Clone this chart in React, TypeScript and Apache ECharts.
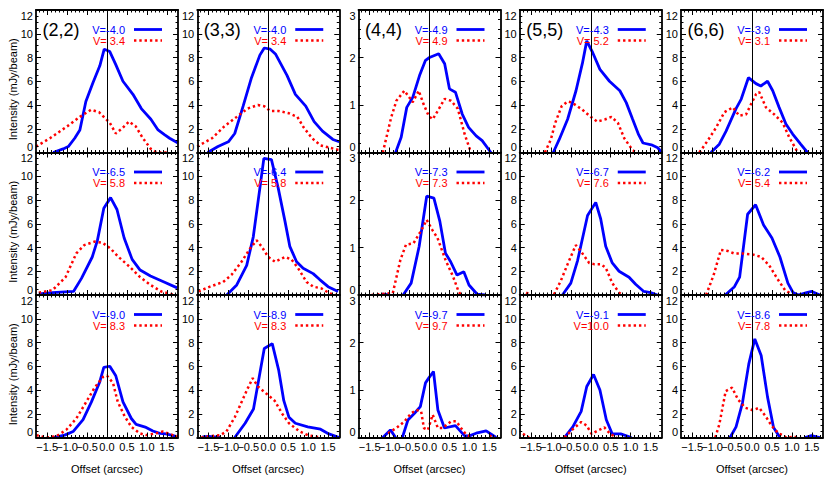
import React, { useEffect, useRef } from 'react';
import * as echarts from 'echarts';

const FONT = '"Liberation Sans", Arial, Helvetica, sans-serif';

// ---- labels ----
const panelLabels = ['(2,2)', '(3,3)', '(4,4)', '(5,5)', '(6,6)'];
const blueVelRow1 = ['-4.0', '-4.0', '-4.9', '-4.3', '-3.9'];
const blueVelRow2 = ['-6.5', '-6.4', '-7.3', '-6.7', '-6.2'];
const blueVelRow3 = ['-9.0', '-8.9', '-9.7', '-9.1', '-8.6'];
const redVelRow1 = [' 3.4', ' 3.4', ' 4.9', ' 5.2', ' 3.1'];
const redVelRow2 = [' 5.8', ' 5.8', ' 7.3', ' 7.6', ' 5.4'];
const redVelRow3 = [' 8.3', ' 8.3', ' 9.7', '10.0', ' 7.8'];

// ---- axes ----
const yMaxByColumn = [12, 12, 3, 12, 12];
const yIntervalByColumn = [2, 2, 1, 2, 2];
const yMinorSplitByColumn = [4, 4, 5, 4, 4];
const xMajorTicks = [-1.5, -1.0, -0.5, 0, 0.5, 1.0, 1.5];
const xLabelsOdd = [-1.5, -0.5, 0.5, 1.5];
const xLabelsEven = [-1.0, 0, 1.0];
const xMinorTicks = [-1.7, -1.6, -1.4, -1.3, -1.2, -1.1, -0.9, -0.8, -0.7, -0.6, -0.4, -0.3, -0.2, -0.1,
  0.1, 0.2, 0.3, 0.4, 0.6, 0.7, 0.8, 0.9, 1.1, 1.2, 1.3, 1.4, 1.6, 1.7];
const X_MIN = -1.78;
const X_MAX = 1.78;

// ---- data: [offset (arcsec), intensity (mJy/beam)] ----
const blue_r1c1 = [[-1.35,0],[-1.1,0.3],[-0.97,0.5],[-0.81,1.2],[-0.68,1.9],[-0.53,4.3],[-0.35,5.9],[-0.18,7.3],[-0.07,8.7],[0.07,8.5],[0.22,7.4],[0.4,6.0],[0.65,4.9],[0.86,3.7],[1.1,2.8],[1.28,1.9],[1.44,1.5],[1.57,1.2],[1.78,0.8]];
const red_r1c1 = [[-1.78,0.5],[-1.43,1.2],[-1.0,2.2],[-0.68,3.0],[-0.4,3.6],[-0.2,3.4],[-0.02,2.8],[0.07,2.5],[0.22,1.6],[0.37,2.0],[0.55,2.6],[0.72,2.2],[0.9,1.2],[1.1,0.3],[1.25,0],[1.55,0]];
const blue_r1c2 = [[-1.52,0],[-1.26,0.5],[-1.0,0.9],[-0.84,1.6],[-0.63,3.9],[-0.42,6.3],[-0.21,8.2],[-0.1,8.8],[0.05,8.7],[0.18,8.3],[0.47,6.5],[0.68,4.9],[0.94,3.9],[1.15,2.6],[1.36,1.8],[1.62,1.1],[1.78,0.9]];
const red_r1c2 = [[-1.78,0.5],[-1.41,1.2],[-1.1,2.2],[-0.79,3.0],[-0.52,3.7],[-0.26,4.0],[-0.1,3.9],[0.05,3.5],[0.26,3.5],[0.52,3.3],[0.73,3.0],[0.89,2.1],[1.1,1.2],[1.31,0.6],[1.78,0.2]];
const blue_r1c3 = [[-0.85,0],[-0.71,0.32],[-0.57,0.95],[-0.42,1.16],[-0.25,1.62],[-0.1,1.94],[0,2.0],[0.23,2.08],[0.38,1.87],[0.5,1.34],[0.65,1.27],[0.82,0.81],[0.98,0.53],[1.17,0.35],[1.32,0.25],[1.54,0]];
const red_r1c3 = [[-1.17,0],[-0.96,0.74],[-0.83,1.09],[-0.63,1.3],[-0.42,1.06],[-0.27,1.3],[-0.15,1.02],[-0.02,0.77],[0.08,0.7],[0.21,0.88],[0.38,1.13],[0.54,1.09],[0.71,0.92],[0.88,0.39],[1.04,0]];
const blue_r1c4 = [[-0.94,0],[-0.79,1.1],[-0.58,2.8],[-0.37,5.2],[-0.21,7.5],[-0.1,9.4],[0.05,8.4],[0.23,7.0],[0.47,6.0],[0.73,5.2],[0.89,4.2],[1.05,2.8],[1.2,1.5],[1.31,0.8],[1.52,0.65],[1.68,0.4],[1.78,0]];
const red_r1c4 = [[-1.15,0],[-1.0,1.1],[-0.89,2.5],[-0.73,3.9],[-0.58,4.3],[-0.47,4.2],[-0.21,3.6],[0,3.0],[0.16,2.6],[0.37,2.8],[0.52,3.0],[0.68,2.5],[0.84,1.2],[1.05,0.2],[1.15,0]];
const blue_r1c5 = [[-1.03,0],[-0.82,0.7],[-0.65,1.8],[-0.4,3.7],[-0.27,4.5],[-0.09,6.3],[0.1,5.8],[0.22,5.6],[0.39,6.0],[0.52,5.2],[0.68,3.8],[0.85,2.4],[1.02,1.55],[1.22,0.7],[1.39,0]];
const red_r1c5 = [[-1.32,0],[-1.11,1.0],[-0.9,2.1],[-0.69,3.4],[-0.48,3.8],[-0.32,3.1],[-0.15,3.2],[-0.02,4.1],[0.1,4.9],[0.18,5.1],[0.35,3.8],[0.56,3.2],[0.77,2.5],[0.93,1.3],[1.1,0.3],[1.14,0]];

const blue_r2c1 = [[-1.71,0.1],[-1.37,0.2],[-0.84,0.3],[-0.64,1.4],[-0.37,3.2],[-0.24,4.6],[-0.08,7.3],[0.09,8.2],[0.25,7.2],[0.43,4.8],[0.63,3.0],[0.83,2.1],[1.09,1.6],[1.43,1.1],[1.76,0.6]];
const red_r2c1 = [[-1.71,0.2],[-1.37,0.4],[-1.04,1.5],[-0.77,3.5],[-0.57,4.2],[-0.31,4.5],[-0.11,4.4],[0.09,3.9],[0.29,3.2],[0.56,2.4],[0.83,1.5],[1.09,0.85],[1.36,0.3],[1.69,0]];
const blue_r2c2 = [[-1.04,0],[-0.79,0.85],[-0.54,2.5],[-0.375,4.9],[-0.21,9.0],[-0.11,11.5],[0.08,11.4],[0.25,9.0],[0.42,6.2],[0.54,4.1],[0.71,2.8],[0.875,2.25],[1.125,1.8],[1.29,1.3],[1.5,0.7],[1.75,0.3]];
const red_r2c2 = [[-1.75,0.3],[-1.46,0.7],[-1.13,1.1],[-0.92,1.7],[-0.67,2.8],[-0.46,3.9],[-0.29,4.6],[-0.17,4.1],[0,3.2],[0.17,2.8],[0.42,3.2],[0.58,3.0],[0.75,2.25],[0.96,1.1],[1.13,0.7],[1.33,0.56],[1.54,0.14],[1.7,0]];
const blue_r2c3 = [[-1.19,0.02],[-0.99,0],['-','-'],[-0.66,0],[-0.46,0.25],[-0.26,1.02],[-0.07,2.08],[0.11,2.04],[0.26,1.55],[0.4,0.88],[0.53,0.7],[0.69,0.42],[0.86,0.49],[0.99,0.21],[1.19,0.02],[1.39,0]];
const red_r2c3 = [[-1.45,0],[-0.92,0.04],[-0.73,0.74],[-0.59,1.06],[-0.4,1.09],[-0.2,1.37],[-0.07,1.58],[0.07,1.37],[0.2,1.2],[0.4,0.74],[0.59,0.39],[0.73,0.07],[0.79,0]];
const blue_r2c4 = [[-0.71,0],[-0.5,1.0],[-0.33,2.9],[-0.08,6.7],[0.125,7.8],[0.25,6.4],[0.375,4.1],[0.54,2.7],[0.71,2.0],[0.96,1.5],[1.125,0.9],[1.33,0.3],[1.5,0.2],[1.67,0]];
const red_r2c4 = [[-1.62,0.2],[-1.5,0],['-','-'],[-0.92,0.05],[-0.75,1.2],[-0.58,2.6],[-0.375,4.2],[-0.25,3.7],[-0.04,2.7],[0.08,2.6],[0.25,2.6],[0.375,2.3],[0.54,1.0],[0.71,0.2],[0.79,0]];
const blue_r2c5 = [[-0.67,0],[-0.44,0.7],[-0.31,1.5],[-0.11,6.8],[0.09,7.6],[0.29,5.9],[0.5,4.8],[0.7,3.2],[0.9,1.0],[1.03,0.2],[1.16,0],[1.37,0.2],[1.5,0.3],[1.7,0]];
const red_r2c5 = [[-1.15,0],[-0.96,1.7],[-0.78,3.8],[-0.6,3.7],[-0.45,3.5],[-0.24,3.5],[0.03,3.4],[0.23,3.2],[0.43,2.5],[0.63,1.4],[0.83,0.4],[1.03,0]];

const blue_r3c1 = [[-1.35,0],[-1.06,0.2],[-0.85,0.5],[-0.6,1.5],[-0.39,3.0],[-0.18,4.7],[-0.08,5.9],[0.07,6.0],[0.22,5.2],[0.4,3.0],[0.61,1.6],[0.73,1.1],[0.98,0.85],[1.15,0.55],[1.32,0.35],[1.48,0.3],[1.73,0.1]];
const red_r3c1 = [[-1.77,0.2],[-1.52,0],[-1.27,0.1],[-1.02,0.65],[-0.77,1.6],[-0.52,3.0],[-0.31,4.2],[-0.1,5.1],[0,5.2],[0.15,4.6],[0.27,3.0],[0.44,1.8],[0.61,0.9],[0.82,0.35],[0.98,0.2],[1.23,0.35],[1.4,0.5],[1.65,0.2],[1.78,0.1]];
const blue_r3c2 = [[-1.65,0.05],[-1.5,0.1],[-1.2,0],['-','-'],[-0.84,0],[-0.58,1.2],[-0.37,2.4],[-0.1,7.5],[0.1,7.9],[0.26,5.7],[0.39,3.1],[0.52,1.7],[0.68,1.2],[0.99,0.9],[1.31,0.7],[1.52,0.3],[1.78,0]];
const red_r3c2 = [[-1.68,0],[-1.47,0.1],[-1.2,0.2],[-1.05,0.5],[-0.84,1.7],[-0.68,2.9],[-0.52,4.1],[-0.39,5.0],[-0.26,4.3],[-0.05,3.7],[0.16,3.1],[0.35,2.0],[0.52,1.2],[0.79,0.5],[0.99,0.2],[1.31,0]];
const blue_r3c3 = [[-1.17,0],[-0.98,0.16],[-0.85,0],['-','-'],[-0.68,0],[-0.54,0.37],[-0.375,0.51],[-0.23,0.65],[-0.1,1.15],[-0.02,1.25],[0.1,1.39],[0.21,0.58],[0.375,0.2],[0.65,0.25],[0.875,0.04],[1.0,0.035],[1.17,0.09],[1.42,0.14],[1.67,0]];
const red_r3c3 = [[-1.04,0.09],[-0.83,0.2],[-0.625,0.34],[-0.46,0.51],[-0.33,0.58],[-0.21,0.55],[-0.14,0.2],[-0.04,0.16],[0.08,0.48],[0.21,0.2],[0.33,0.2],[0.54,0.34],[0.67,0.34],[0.79,0.2],[0.92,0.06],[1.08,0],['-','-'],[1.5,0.04],[1.63,0]];
const blue_r3c4 = [[-0.66,0],[-0.45,0.9],[-0.24,2.2],[-0.1,4.3],[0.07,5.3],[0.23,4.0],[0.39,1.5],[0.54,0.3],[0.75,0.3],[1.02,0]];
const red_r3c4 = [[-1.7,0.3],[-1.55,0],['-','-'],[-0.66,0],[-0.45,0.7],[-0.24,1.3],[-0.1,1.0],[0.02,0.3],[0.13,0.5],[0.34,0.85],[0.49,0.3],[0.65,0]];
const blue_r3c5 = [[-0.55,0],[-0.4,0.9],[-0.24,2.9],[-0.08,6.2],[0.07,8.3],[0.23,6.9],[0.39,3.4],[0.54,0.85],[0.7,0],['-','-'],[1.33,0],[1.49,0.15],[1.7,0]];
const red_r3c5 = [[-0.92,0],[-0.82,1.1],[-0.66,3.9],[-0.5,4.2],[-0.35,3.2],[-0.17,2.5],[0.02,2.3],[0.18,2.5],[0.34,1.8],[0.49,1.0],[0.65,0.4],[0.86,0],[1.07,0.05],[1.23,0]];

const blueRows = [
  [blue_r1c1, blue_r1c2, blue_r1c3, blue_r1c4, blue_r1c5],
  [blue_r2c1, blue_r2c2, blue_r2c3, blue_r2c4, blue_r2c5],
  [blue_r3c1, blue_r3c2, blue_r3c3, blue_r3c4, blue_r3c5],
];
const redRows = [
  [red_r1c1, red_r1c2, red_r1c3, red_r1c4, red_r1c5],
  [red_r2c1, red_r2c2, red_r2c3, red_r2c4, red_r2c5],
  [red_r3c1, red_r3c2, red_r3c3, red_r3c4, red_r3c5],
];
const blueVelRows = [blueVelRow1, blueVelRow2, blueVelRow3];
const redVelRows = [redVelRow1, redVelRow2, redVelRow3];

// ---- layout ----
const GRID_LEFT0 = 36;
const COL_STEP = 161.25;
const GRID_W = 142;
const GRID_TOP0 = 10;
const ROW_STEP = 142.5;
const GRID_H = 142.5;
const BLUE = '#0000ff';
const RED = '#ff0000';
const RED_DASH = [2.4, 2.9];
const X_PER_GRID = 5;

function fmtX(v: number) {
  return v.toFixed(1).replace('-', '\u2212');
}

function buildOption() {
  const grid: any[] = [];
  const xAxis: any[] = [];
  const yAxis: any[] = [];
  const series: any[] = [];
  const graphic: any[] = [];

  for (let r = 0; r < 3; r++) {
    for (let c = 0; c < 5; c++) {
      const g = r * 5 + c;
      const left = GRID_LEFT0 + c * COL_STEP;
      const top = GRID_TOP0 + r * ROW_STEP;
      grid.push({ left, top, width: GRID_W, height: GRID_H });

      const baseX = {
        gridIndex: g, type: 'value', min: X_MIN, max: X_MAX, z: 4,
        splitLine: { show: false },
      };
      const labelStyle = {
        show: r === 2, formatter: fmtX,
        showMinLabel: true, showMaxLabel: true,
        fontSize: 11, color: '#000', margin: 4, fontFamily: FONT,
      };
      xAxis.push({
        ...baseX, position: 'bottom',
        axisLine: { show: true, onZero: false, lineStyle: { color: '#000', width: 1.8 } },
        axisTick: { show: true, inside: true, length: 2.5, customValues: xMinorTicks, lineStyle: { color: '#000', width: 1 } },
        axisLabel: { show: false },
      });
      xAxis.push({
        ...baseX, position: 'bottom',
        axisLine: { show: false, onZero: false },
        axisTick: { show: true, inside: true, length: 5, customValues: xMajorTicks, lineStyle: { color: '#000', width: 1 } },
        axisLabel: { ...labelStyle, customValues: xLabelsOdd },
      });
      xAxis.push({
        ...baseX, position: 'bottom',
        axisLine: { show: false, onZero: false },
        axisTick: { show: false },
        axisLabel: { ...labelStyle, customValues: xLabelsEven },
      });
      xAxis.push({
        ...baseX, position: 'top',
        axisLine: { show: true, onZero: false, lineStyle: { color: '#000', width: 1.8 } },
        axisTick: { show: true, inside: true, length: 2.5, customValues: xMinorTicks, lineStyle: { color: '#000', width: 1 } },
        axisLabel: { show: false },
      });
      xAxis.push({
        ...baseX, position: 'top',
        axisLine: { show: false, onZero: false },
        axisTick: { show: true, inside: true, length: 5, customValues: xMajorTicks, lineStyle: { color: '#000', width: 1 } },
        axisLabel: { show: false },
      });

      const baseY = {
        gridIndex: g, type: 'value', min: 0, max: yMaxByColumn[c], interval: yIntervalByColumn[c], z: 4,
        splitLine: { show: false },
        minorSplitLine: { show: false },
        axisLine: { show: true, onZero: false, lineStyle: { color: '#000', width: 1.8 } },
        axisTick: { show: true, inside: true, length: 5, lineStyle: { color: '#000', width: 1 } },
        minorTick: { show: true, splitNumber: yMinorSplitByColumn[c], length: 2.5, lineStyle: { color: '#000', width: 1 } },
      };
      yAxis.push({
        ...baseY, position: 'left',
        axisLabel: {
          show: true, fontSize: 11, color: '#000', margin: 3, fontFamily: FONT,
          showMinLabel: true, showMaxLabel: true,
          verticalAlignMinLabel: 'bottom', verticalAlignMaxLabel: 'top',
        },
      });
      yAxis.push({ ...baseY, position: 'right', axisLabel: { show: false } });

      series.push({
        type: 'line', xAxisIndex: g * X_PER_GRID, yAxisIndex: g * 2,
        data: blueRows[r][c], showSymbol: false, symbol: 'none', z: 3,
        lineStyle: { color: BLUE, width: 2.8 }, itemStyle: { color: BLUE },
        emphasis: { disabled: true },
        markLine: {
          silent: true, symbol: ['none', 'none'], label: { show: false },
          lineStyle: { color: '#000', width: 1, type: 'solid' },
          emphasis: { disabled: true },
          data: [{ xAxis: 0 }],
        },
      });
      series.push({
        type: 'line', xAxisIndex: g * X_PER_GRID, yAxisIndex: g * 2,
        data: redRows[r][c], showSymbol: false, symbol: 'none', z: 3,
        lineStyle: { color: RED, width: 2.5, type: RED_DASH }, itemStyle: { color: RED },
        emphasis: { disabled: true },
      });

      graphic.push({
        type: 'text', x: left + 89, y: top + 19.5, z: 10,
        style: { text: 'V=' + blueVelRows[r][c], fill: BLUE, font: `11px ${FONT}`, align: 'right', verticalAlign: 'middle' },
      });
      graphic.push({
        type: 'text', x: left + 89, y: top + 30.5, z: 10,
        style: { text: 'V=' + redVelRows[r][c], fill: RED, font: `11px ${FONT}`, align: 'right', verticalAlign: 'middle' },
      });
      graphic.push({
        type: 'line', z: 10,
        shape: { x1: left + 98, y1: top + 19.5, x2: left + 126, y2: top + 19.5 },
        style: { stroke: BLUE, lineWidth: 2.8 },
      });
      graphic.push({
        type: 'line', z: 10,
        shape: { x1: left + 98, y1: top + 30.5, x2: left + 126, y2: top + 30.5 },
        style: { stroke: RED, lineWidth: 2.5, lineDash: RED_DASH },
      });
      if (r === 0) {
        graphic.push({
          type: 'text', x: left + 6.5, y: top + 20, z: 10,
          style: { text: panelLabels[c], fill: '#000', font: `18px ${FONT}`, align: 'left', verticalAlign: 'middle' },
        });
      }
      if (r === 2) {
        graphic.push({
          type: 'text', x: left + GRID_W / 2, y: 469, z: 10,
          style: { text: 'Offset (arcsec)', fill: '#000', font: `11px ${FONT}`, align: 'center', verticalAlign: 'middle' },
        });
      }
    }
    graphic.push({
      type: 'text', x: 12.5, y: GRID_TOP0 + r * ROW_STEP + GRID_H / 2 + 8, rotation: Math.PI / 2, z: 10,
      style: { text: 'Intensity (mJy/beam)', fill: '#000', font: `11px ${FONT}`, align: 'center', verticalAlign: 'middle' },
    });
  }

  return {
    animation: false,
    backgroundColor: '#ffffff',
    textStyle: { fontFamily: FONT },
    grid, xAxis, yAxis, series, graphic,
  };
}

export default function App() {
  const ref = useRef<HTMLDivElement>(null);
  useEffect(() => {
    if (!ref.current) return;
    const chart = echarts.init(ref.current, undefined, { renderer: 'svg' });
    chart.setOption(buildOption() as any);
    return () => chart.dispose();
  }, []);
  return (
    <div
      ref={ref}
      style={{ position: 'fixed', left: 0, top: 0, width: 830, height: 479, background: '#fff' }}
    />
  );
}
